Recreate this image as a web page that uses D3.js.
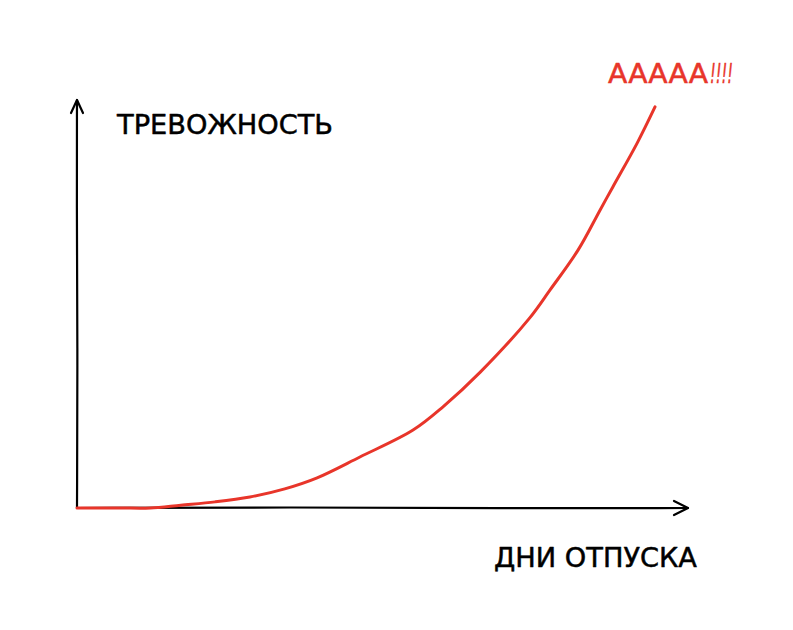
<!DOCTYPE html>
<html>
<head>
<meta charset="utf-8">
<script src="https://cdn.jsdelivr.net/npm/d3@7"></script>
<style>
  html, body { margin: 0; padding: 0; background: #fff; }
  svg { display: block; }
</style>
</head>
<body>
<div id="chart"></div>
<script>
// Data (days of vacation vs anxiety)
const days    = [0, 7, 12, 17, 22.6, 28.3, 34, 39.3, 46.3, 55, 59.9, 66, 74.1, 77.4, 82, 85.6, 87.7, 91.7, 94.6];
const anxiety = [0, 0, 0, 0.7, 1.5, 2.7, 4.7, 7.4, 12.5, 19.1, 24.8, 33.3, 46.6, 53.4, 63.2, 73, 78.7, 89.5, 98.3];
const xLabel = "ДНИ ОТПУСКА";
const yLabel = "ТРЕВОЖНОСТЬ";
const peakLabel = ["AAAAA", "!!!!"];

const W = 793, H = 630;
const svg = d3.select("#chart").append("svg").attr("width", W).attr("height", H);

const x = d3.scaleLinear().domain([0, 100]).range([77, 688]);
const y = d3.scaleLinear().domain([0, 100]).range([508, 100]);

const g = svg.append("g");

// axes
const axisLine = d3.line().x(d => x(d[0])).y(d => y(d[1])).curve(d3.curveBasis);
g.append("path").attr("d", axisLine([[0, 0], [0.1, 40], [-0.05, 75], [0, 100]]))
  .attr("stroke", "#000").attr("stroke-width", 2.2).attr("fill", "none").attr("stroke-linecap", "round");
g.append("path").attr("d", axisLine([[0, 0], [35, 0.2], [70, -0.1], [100, 0]]))
  .attr("stroke", "#000").attr("stroke-width", 2.2).attr("fill", "none").attr("stroke-linecap", "round");

// arrowheads
g.append("path")
  .attr("d", `M${x(0) - 6},${y(100) + 13} L${x(0)},${y(100)} L${x(0) + 6},${y(100) + 13}`)
  .attr("stroke", "#000").attr("stroke-width", 2.2).attr("fill", "none").attr("stroke-linecap", "round").attr("stroke-linejoin", "round");
g.append("path")
  .attr("d", `M${x(100) - 14},${y(0) - 7} L${x(100)},${y(0)} L${x(100) - 14},${y(0) + 7}`)
  .attr("stroke", "#000").attr("stroke-width", 2.2).attr("fill", "none").attr("stroke-linecap", "round").attr("stroke-linejoin", "round");

// curve
const pts = days.map((d, i) => [d, anxiety[i]]);
const curve = d3.line().x(d => x(d[0])).y(d => y(d[1])).curve(d3.curveCatmullRom.alpha(0.5));
g.append("path").attr("d", curve(pts))
  .attr("stroke", "#e8352a").attr("stroke-width", 3).attr("fill", "none").attr("stroke-linecap", "round");

// labels
const font = "'DejaVu Sans', sans-serif";
svg.append("text").attr("x", 117).attr("y", 134).text(yLabel)
  .attr("font-family", font).attr("font-size", 27).attr("fill", "#000")
  .attr("stroke", "#000").attr("stroke-width", 0.5).attr("stroke-linejoin", "round")
  .attr("textLength", 216).attr("lengthAdjust", "spacingAndGlyphs");
svg.append("text").attr("x", 494).attr("y", 567).text(xLabel)
  .attr("font-family", font).attr("font-size", 27).attr("fill", "#000")
  .attr("stroke", "#000").attr("stroke-width", 0.5).attr("stroke-linejoin", "round")
  .attr("textLength", 203).attr("lengthAdjust", "spacingAndGlyphs");
const pk = svg.append("text").attr("y", 83)
  .attr("font-family", font).attr("font-size", 26).attr("fill", "#e8352a")
  .attr("stroke", "#e8352a").attr("stroke-width", 0.5).attr("stroke-linejoin", "round");
pk.append("tspan").attr("x", 608).text(peakLabel[0])
  .attr("textLength", 100).attr("lengthAdjust", "spacingAndGlyphs");
pk.append("tspan").attr("x", 710).attr("font-style", "italic").text(peakLabel[1])
  .attr("textLength", 23).attr("lengthAdjust", "spacingAndGlyphs");
</script>
</body>
</html>
